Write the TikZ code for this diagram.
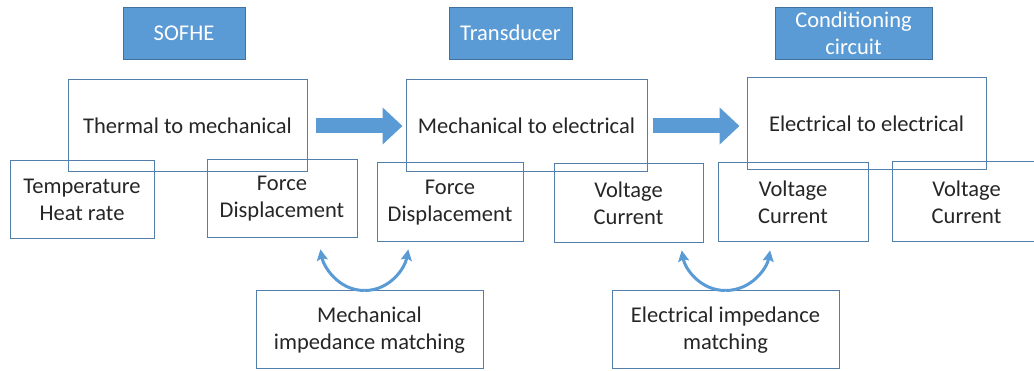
\documentclass[tikz,border=0pt]{standalone}
\usepackage{fontspec}
\setmainfont{Carlito}
\usepackage{tikz}
\usetikzlibrary{arrows.meta, positioning, calc}

\definecolor{hdrblue}{RGB}{91,155,213}
\definecolor{hdredge}{RGB}{65,113,156}
\definecolor{boxedge}{RGB}{84,126,170}

\begin{document}
\begin{tikzpicture}[x=1pt, y=-1pt,
    header/.style={rectangle, draw=hdredge, fill=hdrblue, line width=0.8pt, minimum width=122pt, minimum height=52pt, inner sep=0pt, font=\fontsize{22.5}{27}\selectfont, text=white, align=center},
    stage/.style={rectangle, draw=boxedge, line width=1pt, minimum width=240pt, minimum height=92pt, inner sep=0pt, font=\fontsize{22.5}{27}\selectfont, text=black!85, align=center},
    quantity/.style={rectangle, draw=boxedge, line width=1pt, minimum width=149pt, minimum height=79pt, inner sep=0pt, font=\fontsize{22.5}{27}\selectfont, text=black!85, align=center},
    matching/.style={rectangle, draw=boxedge, line width=1pt, minimum width=227pt, minimum height=78pt, inner sep=0pt, font=\fontsize{22.5}{27}\selectfont, text=black!85, align=center},
    flow/.style={-{Triangle[length=20pt, width=36pt]}, hdrblue, line width=15pt},
    swing/.style={-{Stealth[length=11pt, width=11pt, inset=2pt]}, hdrblue, line width=3pt},
]

\useasboundingbox (0,0) rectangle (1034,371);
\fill[white] (0,0) rectangle (1034,371);

% === HEADERS ===
\node[header] (sofhe) at (184,33) {SOFHE};
\node[header, minimum width=123pt] (trans) at (510.5,33) {Transducer};
\node[header, minimum width=157pt] (cond) at (853.5,33) {Conditioning\\circuit};

% === CONVERSION STAGES ===
\node[stage, minimum width=239pt] (t2m) at (187.5,126) {Thermal to mechanical};
\node[stage, minimum width=241pt] (m2e) at (526.5,126) {Mechanical to electrical};
\node[stage, minimum width=239pt] (e2e) at (866.5,124) {Electrical to electrical};

% === PORT QUANTITIES ===
\node[quantity, minimum width=144pt, minimum height=78pt] (temp) at (82,200) {Temperature\\Heat rate};
\node[quantity, minimum width=150pt, minimum height=78pt] (fd1) at (282,199) {Force\\Displacement};
\node[quantity, minimum width=146pt] (fd2) at (450,202.5) {Force\\Displacement};
\node[quantity] (vc1) at (628.5,203.5) {Voltage\\Current};
\node[quantity, minimum width=150pt] (vc2) at (793,202.5) {Voltage\\Current};
\node[quantity, minimum height=80pt] (vc3) at (966.5,202) {Voltage\\Current};

% === IMPEDANCE MATCHING ===
\node[matching] (mim) at (369.5,330) {Mechanical\\impedance matching};
\node[matching] (eim) at (725.5,330) {Electrical impedance\\matching};

% === STAGE -> STAGE ARROWS ===
\draw[flow, shorten <=8pt, shorten >=3pt] (t2m.east) -- (m2e.west);
\draw[flow, shorten <=5pt, shorten >=7pt] (m2e.east) -- (m2e.east -| e2e.west);

% === MATCHING ARROWS ===
\draw[swing, shorten >=11pt] ([xshift=-5pt]mim.north) to[out=180, in=-80] ([xshift=-39pt]fd1.south east);
\draw[swing, shorten >=7pt] ([xshift=-5pt]mim.north) to[out=0, in=-100] ([xshift=33pt]fd2.south west);
\draw[swing, shorten >=7pt] (eim.north) to[out=180, in=-80] ([xshift=-23pt]vc1.south east);
\draw[swing, shorten >=8pt] (eim.north) to[out=0, in=-100] ([xshift=54pt]vc2.south west);

\end{tikzpicture}
\end{document}
